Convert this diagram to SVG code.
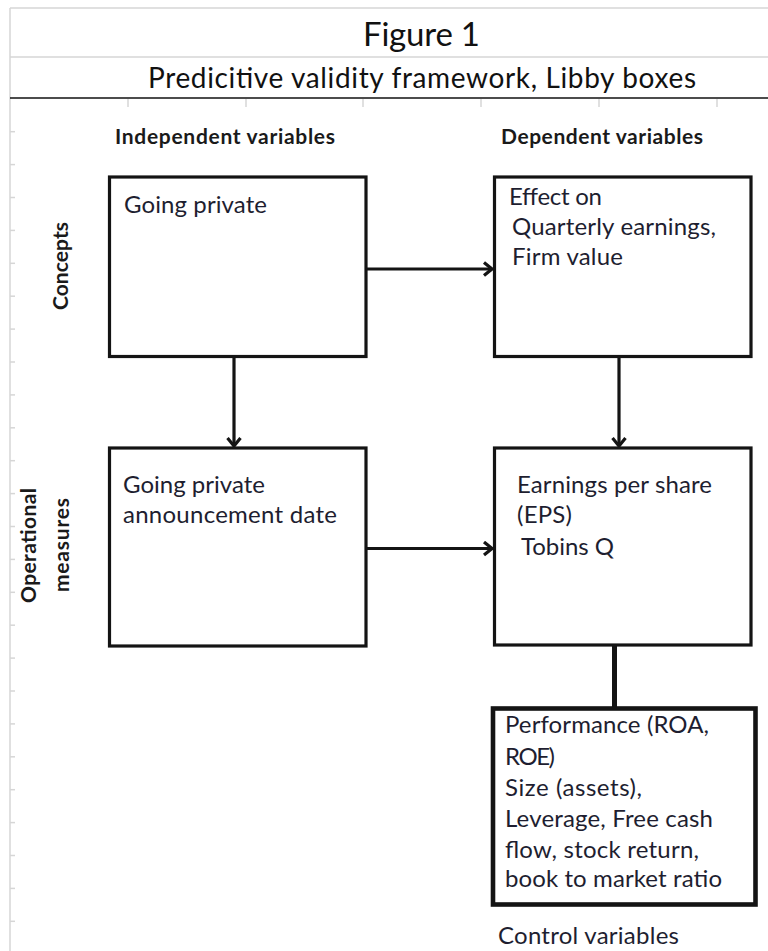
<svg xmlns="http://www.w3.org/2000/svg" width="768" height="951" viewBox="0 0 768 951">
<style>
  .grid { stroke: #d6d6d6; stroke-width: 1.5; fill: none; }
  .tick { stroke: #d6d6d6; stroke-width: 1.5; }
  .title { font-family: Lato, "Open Sans", "Liberation Sans", sans-serif; fill: #111111; }
  .head { font-family: Lato, "Open Sans", "Liberation Sans", sans-serif; font-weight: bold; font-size: 21px; fill: #1a1a1a; }
  .txt { font-family: Lato, "Open Sans", "Liberation Sans", sans-serif; font-size: 24px; fill: #1e1e30; }
  .box { fill: #ffffff; stroke: #141414; stroke-width: 3.2; }
  .boxthick { fill: #ffffff; stroke: #141414; stroke-width: 4.6; }
  .conn { stroke: #141414; stroke-width: 3.2; fill: none; }
</style>
<defs>
  <marker id="arrow" markerUnits="userSpaceOnUse" viewBox="0 0 12 16" refX="10" refY="8" markerWidth="12" markerHeight="16" orient="auto">
    <path d="M2,1.5 L10,8 L2,14.5" fill="none" stroke="#141414" stroke-width="3.2"/>
  </marker>
</defs>

<g id="gridlines">
  <line class="grid" x1="10" y1="8" x2="768" y2="8"/>
  <line class="grid" x1="10" y1="57" x2="768" y2="57"/>
  <line class="grid" x1="10" y1="8" x2="10" y2="951"/>
  <line x1="10" y1="98" x2="768" y2="98" stroke="#111111" stroke-width="1.6"/>
  <g class="tick">
    <line x1="128" y1="99" x2="128" y2="107"/>
    <line x1="246" y1="99" x2="246" y2="107"/>
    <line x1="363" y1="99" x2="363" y2="107"/>
    <line x1="481" y1="99" x2="481" y2="107"/>
    <line x1="599" y1="99" x2="599" y2="107"/>
    <line x1="717" y1="99" x2="717" y2="107"/>
    <line x1="10" y1="131.7" x2="15" y2="131.7"/>
    <line x1="10" y1="164.6" x2="15" y2="164.6"/>
    <line x1="10" y1="197.5" x2="15" y2="197.5"/>
    <line x1="10" y1="230.4" x2="15" y2="230.4"/>
    <line x1="10" y1="263.3" x2="15" y2="263.3"/>
    <line x1="10" y1="296.2" x2="15" y2="296.2"/>
    <line x1="10" y1="329.1" x2="15" y2="329.1"/>
    <line x1="10" y1="362" x2="15" y2="362"/>
    <line x1="10" y1="394.9" x2="15" y2="394.9"/>
    <line x1="10" y1="427.8" x2="15" y2="427.8"/>
    <line x1="10" y1="460.7" x2="15" y2="460.7"/>
    <line x1="10" y1="493.6" x2="15" y2="493.6"/>
    <line x1="10" y1="526.5" x2="15" y2="526.5"/>
    <line x1="10" y1="559.4" x2="15" y2="559.4"/>
    <line x1="10" y1="592.3" x2="15" y2="592.3"/>
    <line x1="10" y1="625.2" x2="15" y2="625.2"/>
    <line x1="10" y1="658.1" x2="15" y2="658.1"/>
    <line x1="10" y1="691" x2="15" y2="691"/>
    <line x1="10" y1="723.9" x2="15" y2="723.9"/>
    <line x1="10" y1="756.8" x2="15" y2="756.8"/>
    <line x1="10" y1="789.7" x2="15" y2="789.7"/>
    <line x1="10" y1="822.6" x2="15" y2="822.6"/>
    <line x1="10" y1="855.5" x2="15" y2="855.5"/>
    <line x1="10" y1="888.4" x2="15" y2="888.4"/>
    <line x1="10" y1="921.3" x2="15" y2="921.3"/>
  </g>
</g>

<g id="titles">
  <text class="title" x="363" y="46" font-size="33" textLength="117">Figure 1</text>
  <text class="title" x="148" y="88" font-size="28" textLength="548">Predicitive validity framework, Libby boxes</text>
</g>

<g id="labels">
  <text class="head" x="115" y="144" textLength="220">Independent variables</text>
  <text class="head" x="501" y="144" textLength="202">Dependent variables</text>
  <text class="head" transform="translate(68,266) rotate(-90)" text-anchor="middle" textLength="88">Concepts</text>
  <text class="head" transform="translate(36,545.5) rotate(-90)" text-anchor="middle" textLength="115">Operational</text>
  <text class="head" transform="translate(69,545) rotate(-90)" text-anchor="middle" textLength="94">measures</text>
</g>

<g id="connectors">
  <line class="conn" x1="366" y1="269" x2="492" y2="269" marker-end="url(#arrow)"/>
  <line class="conn" x1="366" y1="548.5" x2="492" y2="548.5" marker-end="url(#arrow)"/>
  <line class="conn" x1="234" y1="356.5" x2="234" y2="446" marker-end="url(#arrow)"/>
  <line class="conn" x1="619" y1="356.5" x2="619" y2="446" marker-end="url(#arrow)"/>
  <line x1="614.5" y1="645" x2="614.5" y2="708" stroke="#141414" stroke-width="5"/>
</g>

<g id="node-going-private">
  <rect class="box" x="109.5" y="177" width="256.5" height="179.5"/>
  <text class="txt" x="124" y="213" textLength="143">Going private</text>
</g>

<g id="node-effect-on">
  <rect class="box" x="494.5" y="177" width="256.5" height="179.5"/>
  <text class="txt" x="509" y="205" textLength="93">Effect on</text>
  <text class="txt" x="512" y="235" textLength="204">Quarterly earnings,</text>
  <text class="txt" x="512" y="265" textLength="111">Firm value</text>
</g>

<g id="node-announcement">
  <rect class="box" x="109.5" y="448" width="256.5" height="198"/>
  <text class="txt" x="123" y="493" textLength="142">Going private</text>
  <text class="txt" x="123" y="523" textLength="214">announcement date</text>
</g>

<g id="node-eps">
  <rect class="box" x="494.5" y="448" width="256.5" height="197"/>
  <text class="txt" x="517" y="493" textLength="195">Earnings per share</text>
  <text class="txt" x="517" y="523" textLength="55">(EPS)</text>
  <text class="txt" x="521" y="555" textLength="93">Tobins Q</text>
</g>

<g id="node-controls">
  <rect class="boxthick" x="493" y="708.5" width="262.5" height="196"/>
  <text class="txt" x="505" y="733" textLength="204">Performance (ROA,</text>
  <text class="txt" x="505" y="765" textLength="50">ROE)</text>
  <text class="txt" x="505" y="796" textLength="137">Size (assets),</text>
  <text class="txt" x="505" y="827" textLength="208">Leverage, Free cash</text>
  <text class="txt" x="505" y="858" textLength="194">flow, stock return,</text>
  <text class="txt" x="505" y="887" textLength="217">book to market ratio</text>
</g>

<g id="label-control-variables">
  <text class="txt" x="498" y="944" textLength="181">Control variables</text>
</g>
</svg>
